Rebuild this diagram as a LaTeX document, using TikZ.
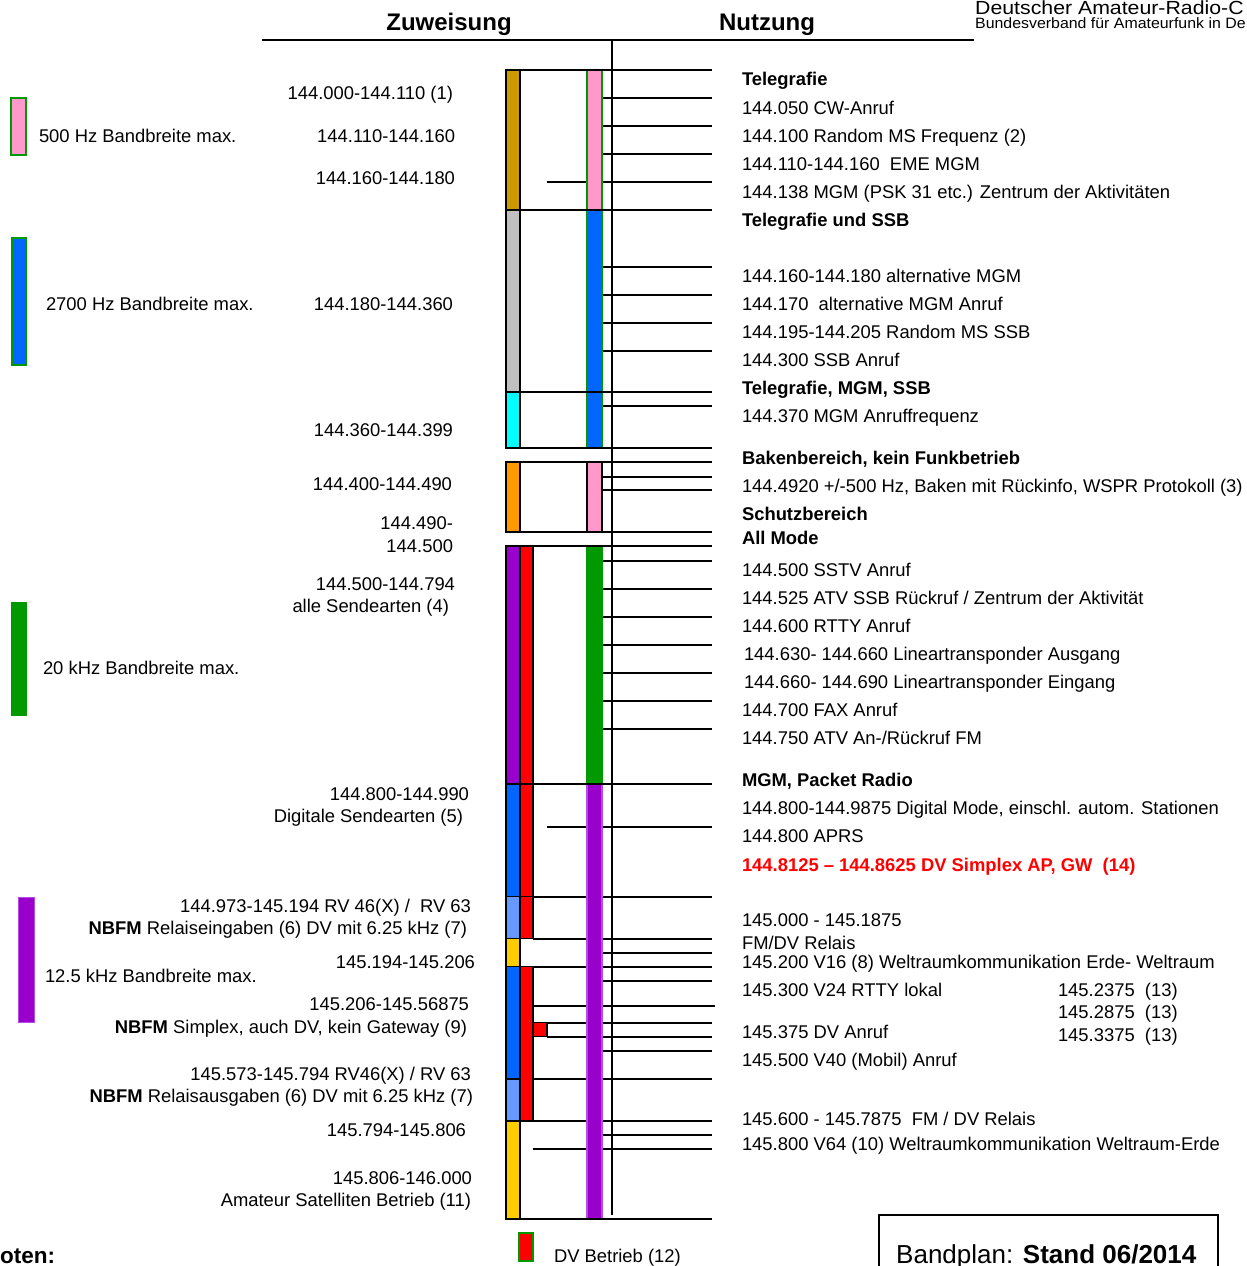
\documentclass[tikz,border=0pt]{standalone}
\usepackage{fontspec}
\setmainfont{Liberation Sans}
\definecolor{cgold}{HTML}{CC9900}
\definecolor{cgray}{HTML}{C0C0C0}
\definecolor{ccyan}{HTML}{00FFFF}
\definecolor{corange}{HTML}{FF9900}
\definecolor{cpurple}{HTML}{9900CC}
\definecolor{cpurpleb}{HTML}{B44BE6}
\definecolor{cred}{HTML}{FF0000}
\definecolor{cblue}{HTML}{0066FF}
\definecolor{clblue}{HTML}{6699FF}
\definecolor{cyellow}{HTML}{FFCC00}
\definecolor{cpink}{HTML}{FF99CC}
\definecolor{cgreen}{HTML}{009900}
\tikzset{
  txt/.style={font=\fontsize{18.4}{20}\selectfont, inner sep=0pt, outer sep=0pt},
  btxt/.style={txt, font=\fontsize{18.4}{20}\selectfont\bfseries},
  rl/.style={txt, anchor=base west},
  rb/.style={btxt, anchor=base west},
  ll/.style={txt, anchor=base east},
  hdr/.style={font=\fontsize{24}{26}\selectfont\bfseries, inner sep=0pt, anchor=base},
  ln/.style={line width=1.8pt, black},
  bx/.style={draw=black, line width=1.5pt},
}
\begin{document}
\begin{tikzpicture}[x=1pt,y=-1pt]
\useasboundingbox (0,0) rectangle (1247,1266);
\fill[white] (0,0) rectangle (1247,1266);

% header
\node[hdr] (hz) at (449,30.6) {Zuweisung};
\node[hdr] (hn) at (767,30.6) {Nutzung};
\node[font=\fontsize{19}{20}\selectfont, inner sep=0pt, anchor=base west] (darc1) at (975,14) {\scalebox{1.12}[1]{Deutscher Amateur-Radio-C}};
\node[font=\fontsize{15}{16}\selectfont, inner sep=0pt, anchor=base west] (darc2) at (975,28) {\scalebox{1.06}[1]{Bundesverband für Amateurfunk in De}};
\draw[ln] (262,40) -- (974,40);
\draw[ln] (611.7,40) -- (611.7,1215);

% lines under bars
\foreach \y in {182,826.7,1022.7,1036.7} \draw[ln] (547,\y) -- (712,\y);
\foreach \y in {896.7,938.7,966.7,1079,1121,1149} \draw[ln] (533,\y) -- (712,\y);
\draw[ln] (533,1006) -- (715,1006);
\foreach \y in {98,126,154,266.7,294.7,322.7,350.7,406,476.7,490,560.7,588.7,616.7,644.7,672.7,700.7,728.7,952.7,980.7,1050.7,1135}
  \draw[ln] (602,\y) -- (712,\y);

% left column
\draw[bx, fill=cgold] (506,70) rectangle (520,210);
\draw[bx, fill=cgray] (506,210) rectangle (520,392);
\draw[bx, fill=ccyan] (506,392) rectangle (520,448);
\draw[bx, fill=corange] (506,462) rectangle (520,532);
\draw[bx, fill=cpurple] (506,546) rectangle (520,784);
\draw[bx, fill=cred] (520,546) rectangle (533,784);
\draw[bx, fill=cblue] (506,784) rectangle (520,896.7);
\draw[bx, fill=cred] (520,784) rectangle (533,896.7);
\draw[bx, fill=clblue] (506,896.7) rectangle (520,938.7);
\draw[bx, fill=cred] (520,896.7) rectangle (533,938.7);
\draw[bx, fill=cyellow] (506,938.7) rectangle (520,966.7);
\draw[bx, fill=cblue] (506,966.7) rectangle (520,1079);
\draw[bx, fill=cred] (520,966.7) rectangle (533,1121);
\draw[bx, fill=clblue] (506,1079) rectangle (520,1121);
\draw[bx, fill=cyellow] (506,1121) rectangle (520,1219);
\draw[bx, fill=cred] (533,1022.7) rectangle (547,1036.7);

% right column
\draw[fill=cpink, draw=cgreen, line width=1.8pt] (587,70) rectangle (602,210);
\draw[fill=cblue, draw=cgreen, line width=1.8pt] (587,210) rectangle (602,448);
\draw[bx, fill=cpink] (587,462) rectangle (602,532);
\draw[fill=cgreen, draw=cgreen, line width=1.5pt] (587,546) rectangle (602,784);
\draw[fill=cpurple, draw=cpurpleb, line width=1.2pt] (587,784) rectangle (602,1219);

% lines over bars
\foreach \y in {70,210,392,448,462,532,546,784,1219} \draw[ln] (506,\y) -- (712,\y);

% legend boxes
\draw[fill=cpink, draw=cgreen, line width=1.5pt] (11,98) rectangle (26,155);
\draw[fill=cblue, draw=cgreen, line width=1.5pt] (12,238) rectangle (26,365);
\draw[fill=cgreen, draw=cgreen, line width=1pt] (11,602) rectangle (26,715);
\draw[fill=cpurple, draw=cpurpleb, line width=1pt] (18,897) rectangle (34,1022);
\draw[fill=cred, draw=cgreen, line width=2pt] (519,1233) rectangle (533,1261);

\node[rl] (bw1) at (39,142.5) {500 Hz Bandbreite max.};
\node[rl] (bw2) at (46,310.5) {2700 Hz Bandbreite max.};
\node[rl] (bw3) at (43,674.5) {20 kHz Bandbreite max.};
\node[rl] (bw4) at (45,982.5) {12.5 kHz Bandbreite max.};

% left labels
\node[ll] (z1) at (453,99.5) {144.000-144.110 (1)};
\node[ll] (z2) at (455,142.5) {144.110-144.160};
\node[ll] (z3) at (455,184.5) {144.160-144.180};
\node[ll] (z4) at (453,310.5) {144.180-144.360};
\node[ll] (z5) at (453,436.5) {144.360-144.399};
\node[ll] (z6) at (452,490.5) {144.400-144.490};
\node[ll] (z7a) at (453,529.5) {144.490-};
\node[ll] (z7b) at (453,552.5) {144.500};
\node[ll] (z8a) at (455,590.5) {144.500-144.794};
\node[ll] (z8b) at (449,612.5) {alle Sendearten (4)};
\node[ll] (z9a) at (469,800.5) {144.800-144.990};
\node[ll] (z9b) at (463,822.5) {Digitale Sendearten (5)};
\node[ll] (z10a) at (471,912.5) {144.973-145.194 RV 46(X) /\ \ RV 63};
\node[ll] (z10b) at (467,934.5) {\textbf{NBFM} Relaiseingaben (6) DV mit 6.25 kHz (7)};
\node[ll] (z11) at (475,968.5) {145.194-145.206};
\node[ll] (z12a) at (469,1010.5) {145.206-145.56875};
\node[ll] (z12b) at (467,1033.5) {\textbf{NBFM} Simplex, auch DV, kein Gateway (9)};
\node[ll] (z13a) at (471,1080.5) {145.573-145.794 RV46(X) / RV 63};
\node[ll] (z13b) at (473,1102.5) {\textbf{NBFM} Relaisausgaben (6) DV mit 6.25 kHz (7)};
\node[ll] (z14) at (466,1136.5) {145.794-145.806};
\node[ll] (z15a) at (472,1184.5) {145.806-146.000};
\node[ll] (z15b) at (471,1206.5) {Amateur Satelliten Betrieb (11)};

% right labels
\node[rb] (n1) at (742,85.5) {Telegrafie};
\node[rl] (n2) at (742,114.5) {144.050 CW-Anruf};
\node[rl] (n3) at (742,142.5) {144.100 Random MS Frequenz (2)};
\node[rl] (n4) at (742,170.5) {144.110-144.160\ \ EME MGM};
\node[rl] (n5) at (742,198.5) {144.138 MGM (PSK 31 etc.) Zentrum der Aktivitäten};
\node[rb] (n6) at (742,226.5) {Telegrafie und SSB};
\node[rl] (n7) at (742,282.5) {144.160-144.180 alternative MGM};
\node[rl] (n8) at (742,310.5) {144.170\ \ alternative MGM Anruf};
\node[rl] (n9) at (742,338.5) {144.195-144.205 Random MS SSB};
\node[rl] (n10) at (742,366.5) {144.300 SSB Anruf};
\node[rb] (n11) at (742,394.5) {Telegrafie, MGM, SSB};
\node[rl] (n12) at (742,422.5) {144.370 MGM Anruffrequenz};
\node[rb] (n13) at (742,464.5) {Bakenbereich, kein Funkbetrieb};
\node[rl] (n14) at (742,492.5) {144.4920 +/-500 Hz, Baken mit Rückinfo, WSPR Protokoll (3)};
\node[rb] (n15) at (742,520.5) {Schutzbereich};
\node[rb] (n16) at (742,544.5) {All Mode};
\node[rl] (n17) at (742,576.5) {144.500 SSTV Anruf};
\node[rl] (n18) at (742,604.5) {144.525 ATV SSB Rückruf / Zentrum der Aktivität};
\node[rl] (n19) at (742,632.5) {144.600 RTTY Anruf};
\node[rl] (n20) at (744,660.5) {144.630- 144.660 Lineartransponder Ausgang};
\node[rl] (n21) at (744,688.5) {144.660- 144.690 Lineartransponder Eingang};
\node[rl] (n22) at (742,716.5) {144.700 FAX Anruf};
\node[rl] (n23) at (742,744.5) {144.750 ATV An-/Rückruf FM};
\node[rb] (n24) at (742,786.5) {MGM, Packet Radio};
\node[rl] (n25) at (742,814.5) {144.800-144.9875 Digital Mode, einschl. autom. Stationen};
\node[rl] (n26) at (742,842.5) {144.800 APRS};
\node[rb, text=cred] (n27) at (742,871.5) {144.8125 – 144.8625 DV Simplex AP, GW\ \ (14)};
\node[rl] (n28) at (742,926.5) {145.000 - 145.1875};
\node[rl] (n29) at (742,949.5) {FM/DV Relais};
\node[rl] (n30) at (742,968.5) {145.200 V16 (8) Weltraumkommunikation Erde- Weltraum};
\node[rl] (n31) at (742,996.5) {145.300 V24 RTTY lokal};
\node[rl] (n32) at (1058,996.5) {145.2375\ \ (13)};
\node[rl] (n33) at (1058,1018.5) {145.2875\ \ (13)};
\node[rl] (n34) at (1058,1041.5) {145.3375\ \ (13)};
\node[rl] (n35) at (742,1038.5) {145.375 DV Anruf};
\node[rl] (n36) at (742,1066.5) {145.500 V40 (Mobil) Anruf};
\node[rl] (n37) at (742,1125.5) {145.600 - 145.7875\ \ FM / DV Relais};
\node[rl] (n38) at (742,1150.5) {145.800 V64 (10) Weltraumkommunikation Weltraum-Erde};

% bottom
\node[rl] (dv) at (554,1262) {DV Betrieb (12)};
\node[font=\fontsize{22.5}{24}\selectfont\bfseries, inner sep=0pt, anchor=base west] (noten) at (0,1263) {oten:};
\draw[line width=2pt] (879,1280) -- (879,1215) -- (1218,1215) -- (1218,1280);
\node[font=\fontsize{26}{28}\selectfont, inner sep=0pt, anchor=base west] (stand) at (896,1263) {Bandplan: \textbf{Stand 06/2014}};
\end{tikzpicture}
\end{document}
